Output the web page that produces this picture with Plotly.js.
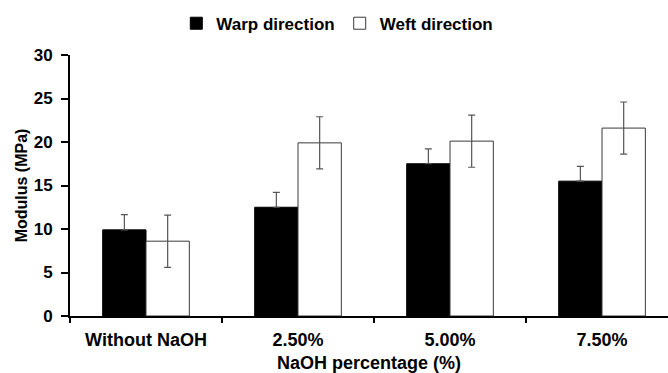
<!DOCTYPE html>
<html>
<head>
<meta charset="utf-8">
<script src="https://cdn.plot.ly/plotly-3.0.1.min.js"></script>
<style>
  html, body { margin: 0; padding: 0; background: #fff; }
  #chart { width: 668px; height: 373px; }
</style>
</head>
<body>
<div id="chart"></div>
<script>
// NaOH treatment levels
const categories = ['Without NaOH', '2.50%', '5.00%', '7.50%'];

// Modulus (MPa) and standard deviations for each direction
const warpModulus    = [9.9, 12.5, 17.5, 15.5];
const warpError      = [1.75, 1.7, 1.7, 1.7];
const warpErrorMinus = [0, 0, 0, 0];          // warp bars show the upper whisker only
const weftModulus    = [8.6, 19.9, 20.1, 21.6];
const weftError      = [3.0, 3.0, 3.0, 3.0];

const yTicks = [0, 5, 10, 15, 20, 25, 30];

const FAMILY = 'Liberation Sans, Arial, sans-serif';
const bold = (size) => ({ family: FAMILY, size: size, color: '#000', weight: 'bold' });

const errStyle = { type: 'data', visible: true, color: '#555', thickness: 1.2, width: 3.5 };

const traces = [
  {
    type: 'bar',
    name: 'Warp direction',
    x: categories,
    y: warpModulus,
    marker: { color: '#000', line: { color: '#000', width: 1 } },
    error_y: Object.assign({ array: warpError, arrayminus: warpErrorMinus, symmetric: false }, errStyle)
  },
  {
    type: 'bar',
    name: 'Weft direction',
    x: categories,
    y: weftModulus,
    marker: { color: '#fff', line: { color: '#3a3a3a', width: 1 } },
    error_y: Object.assign({ array: weftError, symmetric: true }, errStyle)
  }
];

const layout = {
  width: 668,
  height: 373,
  margin: { l: 70, r: 0, t: 55, b: 57 },
  paper_bgcolor: '#fff',
  plot_bgcolor: '#fff',
  barmode: 'group',
  bargap: 0.43,
  bargroupgap: 0,
  font: bold(17),
  showlegend: true,
  legend: {
    orientation: 'h',
    x: 0.447, xanchor: 'center',
    y: 1.12, yanchor: 'middle',
    font: bold(17),
    itemwidth: 30,
    traceorder: 'normal'
  },
  xaxis: {
    type: 'category',
    range: [-0.5, 3.434],
    showline: true,
    linecolor: '#000',
    linewidth: 2,
    ticks: 'outside',
    tickson: 'boundaries',
    ticklen: 5,
    tickwidth: 2,
    tickcolor: '#000',
    ticklabelstandoff: 6,
    showgrid: false,
    zeroline: false,
    tickfont: bold(18),
    title: { text: 'NaOH percentage (%)', font: bold(18), standoff: 10 },
    fixedrange: true
  },
  yaxis: {
    range: [0, 30],
    tickvals: yTicks,
    showline: true,
    linecolor: '#000',
    linewidth: 2,
    ticks: 'outside',
    ticklen: 7,
    tickwidth: 2,
    tickcolor: '#000',
    ticklabelstandoff: 5,
    showgrid: false,
    zeroline: false,
    tickfont: bold(17),
    title: { text: 'Modulus (MPa)', font: bold(16), standoff: 2 },
    fixedrange: true
  }
};

Plotly.newPlot('chart', traces, layout, { displayModeBar: false, staticPlot: true });
</script>
</body>
</html>
